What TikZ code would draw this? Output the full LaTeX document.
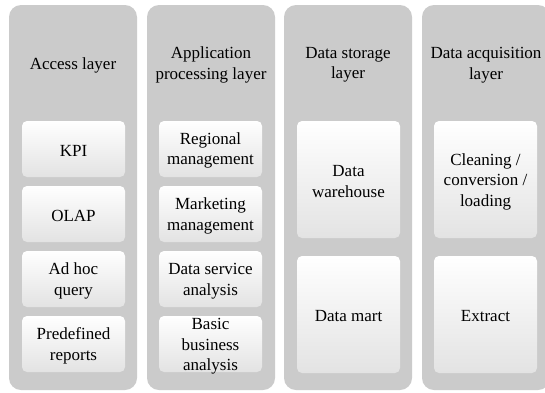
\documentclass[tikz,border=0pt]{standalone}
\usepackage{fontspec}
\newfontfamily\layerfont{Liberation Serif}
\begin{document}
\begin{tikzpicture}[x=1pt,y=-1pt,
  layercol/.style={fill=colgray,draw=none,rounded corners=12pt},
  itembox/.style={rounded corners=5pt,top color=white,middle color=white,bottom color=black!11,draw=none},
  lbl/.style={align=center,font=\layerfont\fontsize{17}{20.5}\selectfont,text=black,inner sep=0pt}]
\definecolor{colgray}{HTML}{CBCBCB}
\useasboundingbox (0,0) rectangle (545,392);
\begin{scope}
\clip (0,0) rectangle (545,392);
% four layer columns
\foreach \x/\n in {9/c1,147/c2,284/c3,422/c4}
  \path[layercol] (\x,5) rectangle ++(128,385);
% access and application layers: four small boxes each
\foreach \x/\c in {22/a,159/b}
  \foreach \y/\k in {121/1,186/2,251/3,316/4}
    \path[itembox] (\x,\y) rectangle ++(103,56);
% storage and acquisition layers: two tall boxes each
\foreach \x in {297,434}
  \foreach \y in {121,256}
    \path[itembox] (\x,\y) rectangle ++(103,117);
\end{scope}
% column headings
\node[lbl] (h1) at (73,65) {Access layer};
\node[lbl] (h2) at (211,65) {Application\\processing layer};
\node[lbl] (h3) at (348,65) {Data storage\\layer};
\node[lbl] (h4) at (486,65) {Data acquisition\\layer};
% access layer items
\node[lbl] (a1) at (73.5,150.5) {KPI};
\node[lbl] (a2) at (73.5,215.5) {OLAP};
\node[lbl] (a3) at (73.5,281) {Ad hoc\\query};
\node[lbl] (a4) at (73.5,346) {Predefined\\reports};
% application processing items
\node[lbl] (b1) at (210.5,150.5) {Regional\\management};
\node[lbl] (b2) at (210.5,216) {Marketing\\management};
\node[lbl] (b3) at (210.5,281) {Data service\\analysis};
\node[lbl] (b4) at (210.5,346.5) {Basic\\business\\analysis};
% data storage items
\node[lbl] (s1) at (348.5,181.5) {Data\\warehouse};
\node[lbl] (s2) at (348.5,316.5) {Data mart};
% data acquisition items
\node[lbl] (q1) at (485.5,181.5) {Cleaning /\\conversion /\\loading};
\node[lbl] (q2) at (485.5,316.5) {Extract};
\end{tikzpicture}
\end{document}
